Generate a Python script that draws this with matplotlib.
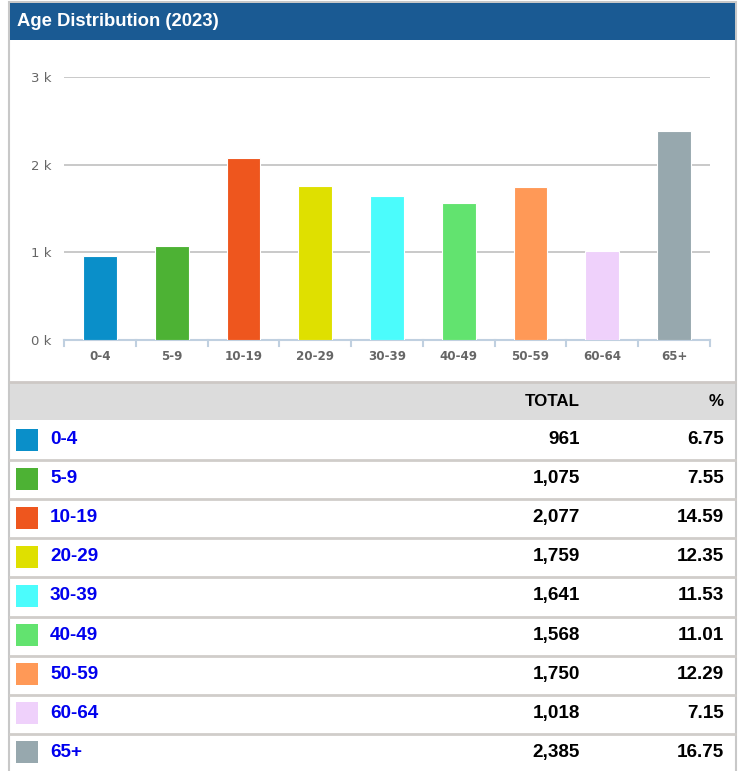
import matplotlib
matplotlib.use("Agg")
from matplotlib import pyplot as plt
from matplotlib.patches import Rectangle
import numpy as np

# Data
age_groups = ["0-4", "5-9", "10-19", "20-29", "30-39", "40-49", "50-59", "60-64", "65+"]
totals = [961, 1075, 2077, 1759, 1641, 1568, 1750, 1018, 2385]
percents = [6.75, 7.55, 14.59, 12.35, 11.53, 11.01, 12.29, 7.15, 16.75]
bar_colors = ["#0a8fc9", "#4db234", "#ee561e", "#dfe000", "#4bfcfc",
              "#62e36f", "#ff9957", "#efd1fb", "#97a8ae"]
y_ticks = [0, 1000, 2000, 3000]
y_tick_labels = ["0 k", "1 k", "2 k", "3 k"]
title = "Age Distribution (2023)"

W, H = 741, 771
fig = plt.figure(figsize=(W / 100, H / 100), dpi=100)


# pixel box -> figure fraction
def px_box(x0, y0, x1, y1):
    return [x0 / W, 1 - y1 / H, (x1 - x0) / W, (y1 - y0) / H]


# background / frame in pixel coords
bg = fig.add_axes([0, 0, 1, 1])
bg.set_xlim(0, W)
bg.set_ylim(H, 0)
bg.axis("off")
bg.add_patch(Rectangle((9, 2), 727, 780, facecolor="white", edgecolor="#c8c8c8", lw=1.5))
bg.add_patch(Rectangle((10, 3), 725, 37, facecolor="#1a5a93", edgecolor="none"))
bg.text(17, 21, title, color="white", fontsize=13.3, fontweight="bold",
        family="Liberation Sans", va="center", ha="left")

# bar chart
ax = fig.add_axes(px_box(64, 77, 710, 340))
x = np.arange(len(age_groups))
ax.bar(x, totals, width=0.47, color=bar_colors, edgecolor="white", linewidth=0.8, zorder=3)
ax.set_xlim(-0.5, len(age_groups) - 0.5)
ax.set_ylim(0, 3000)
ax.set_yticks(y_ticks)
ax.set_yticklabels(y_tick_labels, color="#666666", fontsize=9.5)
ax.grid(axis="y", color="#c0c0c0", lw=1.2, zorder=0)
ax.set_xticks(x)
ax.set_xticklabels(age_groups, color="#666666", fontsize=8.6, fontweight="bold")
ax.tick_params(axis="y", length=0, pad=9)
ax.tick_params(axis="x", length=0, pad=7)
for s in ["top", "right", "left"]:
    ax.spines[s].set_visible(False)
ax.spines["bottom"].set_color("#c0d0e0")
ax.spines["bottom"].set_linewidth(1.5)
# category boundary ticks under the axis
for b in np.arange(-0.5, len(age_groups), 1.0):
    ax.plot([b, b], [0, -70], color="#c0d0e0", lw=1.5, clip_on=False, zorder=4)

# table
bg.add_line(plt.Line2D([10, 735], [382, 382], color="#cdc8c5", lw=2))
bg.add_patch(Rectangle((10, 383), 725, 37, facecolor="#dcdcdc", edgecolor="none"))
bg.text(580, 401, "TOTAL", fontsize=12.2, fontweight="bold", family="Liberation Sans",
        ha="right", va="center", color="black")
bg.text(724, 401, "%", fontsize=12.2, fontweight="bold", family="Liberation Sans",
        ha="right", va="center", color="black")

row_h = 39.1
row_top = 421
for i, (grp, tot, pct, col) in enumerate(zip(age_groups, totals, percents, bar_colors)):
    y0 = row_top + i * row_h
    yc = y0 + row_h / 2 - 1
    if i > 0:
        bg.add_line(plt.Line2D([10, 735], [y0, y0], color="#d0cdca", lw=2))
    bg.add_patch(Rectangle((16, yc - 11), 22, 22, facecolor=col, edgecolor="none"))
    bg.text(50, yc, grp, color="#0000ee", fontsize=13.6, fontweight="bold",
            family="Liberation Sans", ha="left", va="center")
    bg.text(580, yc, f"{tot:,}", color="black", fontsize=13.6, fontweight="bold",
            family="Liberation Sans", ha="right", va="center")
    bg.text(724, yc, f"{pct:.2f}", color="black", fontsize=13.6, fontweight="bold",
            family="Liberation Sans", ha="right", va="center")

fig.savefig("out.png", dpi=100)
